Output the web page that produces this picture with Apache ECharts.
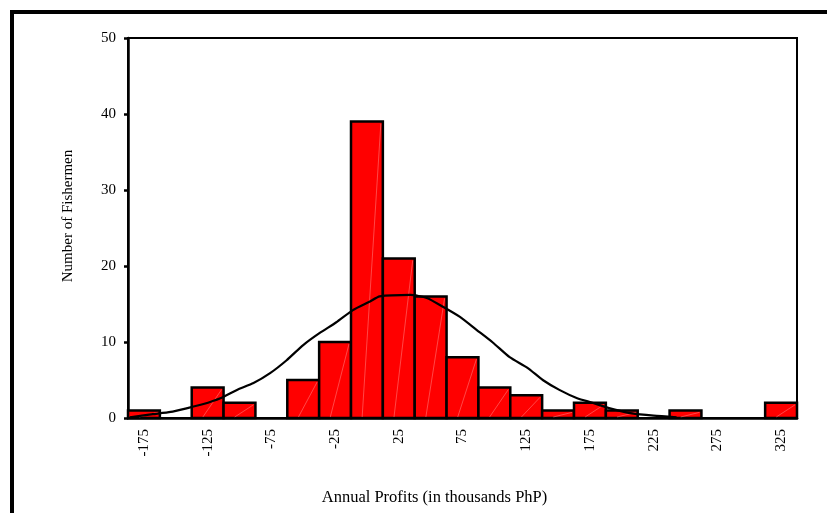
<!DOCTYPE html>
<html><head><meta charset="utf-8">
<script src="https://cdn.jsdelivr.net/npm/echarts@6/dist/echarts.min.js"></script>
<style>html,body{margin:0;padding:0;background:#fff}#c{width:827px;height:513px}</style>
</head><body><div id="c"></div>
<script>
// Histogram bin centres (thousands PhP), bin width 25
const binCenters = [-175,-150,-125,-100,-75,-50,-25,0,25,50,75,100,125,150,175,200,225,250,275,300,325];
const counts     = [1,0,4,2,0,5,10,39,21,16,8,4,3,1,2,1,0,1,0,0,2];
const binWidth = 25;
// Fitted normal curve
const curveX = [-186,-168,-154,-141,-129,-115,-102,-89,-76,-63,-50,-37,-24,-11,2,10,34,47,60,73,86,99,112,126,138,151,165,177,190,208,225,243];
const curveY = [0.1,0.5,0.8,1.3,1.8,2.6,3.7,4.6,5.9,7.6,9.6,11.2,12.6,14.2,15.3,16.0,16.2,15.8,14.6,13.3,11.6,9.9,8.0,6.6,5.0,3.7,2.6,2.0,1.3,0.6,0.3,0.1];
const xTicks = [-175,-125,-75,-25,25,75,125,175,225,275,325];
const yTicks = [0,10,20,30,40,50];

const font = '"Liberation Serif","Times New Roman",serif';
const chart = echarts.init(document.getElementById('c'), null, {renderer:'canvas'});
chart.setOption({
  animation:false,
  backgroundColor:'#fff',
  graphic:[{type:'rect', shape:{x:12,y:12,width:900,height:600}, style:{fill:'none', stroke:'#000', lineWidth:4}, z:100}],
  grid:{left:128,right:30,top:38,bottom:95, show:true, borderColor:'#000', borderWidth:2, backgroundColor:'transparent'},
  xAxis:{
    type:'value', min:binCenters[0]-binWidth/2, max:binCenters[binCenters.length-1]+binWidth/2,
    name:'Annual Profits (in thousands PhP)', nameLocation:'middle', nameGap:71,
    nameTextStyle:{fontFamily:font, fontSize:16.5, color:'#000', padding:[0,56,0,0]},
    axisLine:{show:true, onZero:false, lineStyle:{color:'#000', width:2.5}},
    axisTick:{show:false},
    splitLine:{show:false},
    axisLabel:{customValues:xTicks, rotate:90, fontFamily:font, fontSize:15, color:'#000', margin:11}
  },
  yAxis:{
    type:'value', min:yTicks[0], max:yTicks[yTicks.length-1], interval:10,
    name:'Number of Fishermen', nameLocation:'middle', nameGap:52,
    nameTextStyle:{fontFamily:font, fontSize:15, color:'#000', padding:[0,0,0,24]},
    axisLine:{show:true, onZero:false, lineStyle:{color:'#000', width:2.5}},
    axisTick:{show:true, length:4, lineStyle:{color:'#000', width:2.5}},
    splitLine:{show:false},
    axisLabel:{fontFamily:font, fontSize:15, color:'#000', margin:12}
  },
  series:[
    {
      type:'custom',
      data: binCenters.map((c,i)=>[c, counts[i]]),
      renderItem:function(params, api){
        const c = api.value(0), v = api.value(1);
        if (!v) return null;
        const p0 = api.coord([c - binWidth/2, v]);
        const p1 = api.coord([c + binWidth/2, 0]);
        const x = p0[0], y = p0[1], w = p1[0]-p0[0], h = p1[1]-p0[1];
        return {type:'group', children:[
          {type:'rect', shape:{x:x, y:y, width:w, height:h}, style:{fill:'#ff0000', stroke:'#000', lineWidth:2.5}},
          {type:'line', shape:{x1:x+w*0.35, y1:y+h-1, x2:x+w-2, y2:y+2}, style:{stroke:'rgba(255,200,200,0.6)', lineWidth:0.6}}
        ]};
      },
      z:2
    },
    {
      type:'line',
      data: curveX.map((x,i)=>[x, curveY[i]]),
      showSymbol:false, symbol:'none', smooth:0.2,
      lineStyle:{color:'#000', width:2.2},
      z:3
    }
  ]
});
</script></body></html>
